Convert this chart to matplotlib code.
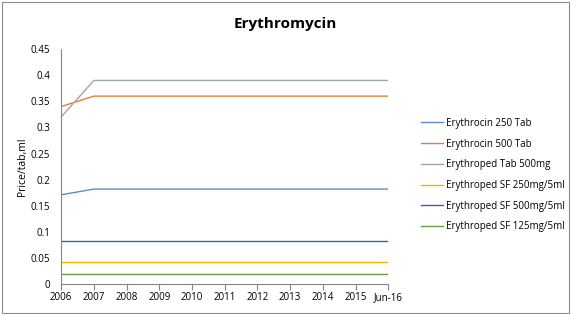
import matplotlib.pyplot as plt
from matplotlib.patches import Rectangle

years = ['2006', '2007', '2008', '2009', '2010', '2011', '2012', '2013', '2014', '2015', 'Jun-16']

erythrocin_250 = [0.171, 0.182, 0.182, 0.182, 0.182, 0.182, 0.182, 0.182, 0.182, 0.182, 0.182]
erythrocin_500 = [0.34, 0.36, 0.36, 0.36, 0.36, 0.36, 0.36, 0.36, 0.36, 0.36, 0.36]
erythroped_tab_500 = [0.32, 0.39, 0.39, 0.39, 0.39, 0.39, 0.39, 0.39, 0.39, 0.39, 0.39]
erythroped_sf_250 = [0.042] * 11
erythroped_sf_500 = [0.082] * 11
erythroped_sf_125 = [0.02] * 11

series = [
    ('Erythrocin 250 Tab', erythrocin_250, '#5b8ec9'),
    ('Erythrocin 500 Tab', erythrocin_500, '#ed7d31'),
    ('Erythroped Tab 500mg', erythroped_tab_500, '#a5a5a5'),
    ('Erythroped SF 250mg/5ml', erythroped_sf_250, '#f0b400'),
    ('Erythroped SF 500mg/5ml', erythroped_sf_500, '#3e64a8'),
    ('Erythroped SF 125mg/5ml', erythroped_sf_125, '#6a9e45'),
]

plt.rcParams['font.family'] = ['Open Sans', 'DejaVu Sans']

fig = plt.figure(figsize=(5.71, 3.15), dpi=100)
ax = fig.add_axes([0.107, 0.098, 0.573, 0.746])

x = list(range(len(years)))
for name, vals, col in series:
    ax.plot(x, vals, color=col, linewidth=1.0, label=name)

ax.set_xlim(0, len(years) - 1)
ax.set_ylim(0, 0.45)
ax.set_xticks(x)
ax.set_xticklabels(years, fontsize=7)
ax.set_yticks([0, 0.05, 0.1, 0.15, 0.2, 0.25, 0.3, 0.35, 0.4, 0.45])
ax.set_yticklabels(['0', '0.05', '0.1', '0.15', '0.2', '0.25', '0.3', '0.35', '0.4', '0.45'], fontsize=7)
ax.tick_params(axis='x', length=4, color='#868686', pad=2)
ax.tick_params(axis='y', length=0, pad=8)
for s in ['top', 'right']:
    ax.spines[s].set_visible(False)
for s in ['left', 'bottom']:
    ax.spines[s].set_color('#868686')
ax.set_ylabel('Price/tab,ml', fontsize=7.5, labelpad=2)

fig.text(0.5, 0.925, 'Erythromycin', ha='center', va='center', fontsize=11, fontweight='bold')

fig.legend(loc='center left', bbox_to_anchor=(0.722, 0.444), frameon=False, fontsize=7,
           handlelength=2.3, labelspacing=1.0, handletextpad=0.3)

fig.patches.append(Rectangle((0.003, 0.006), 0.993, 0.988, transform=fig.transFigure,
                             fill=False, edgecolor='#8c8c8c', linewidth=0.8))

fig.savefig('out.png', dpi=100)
